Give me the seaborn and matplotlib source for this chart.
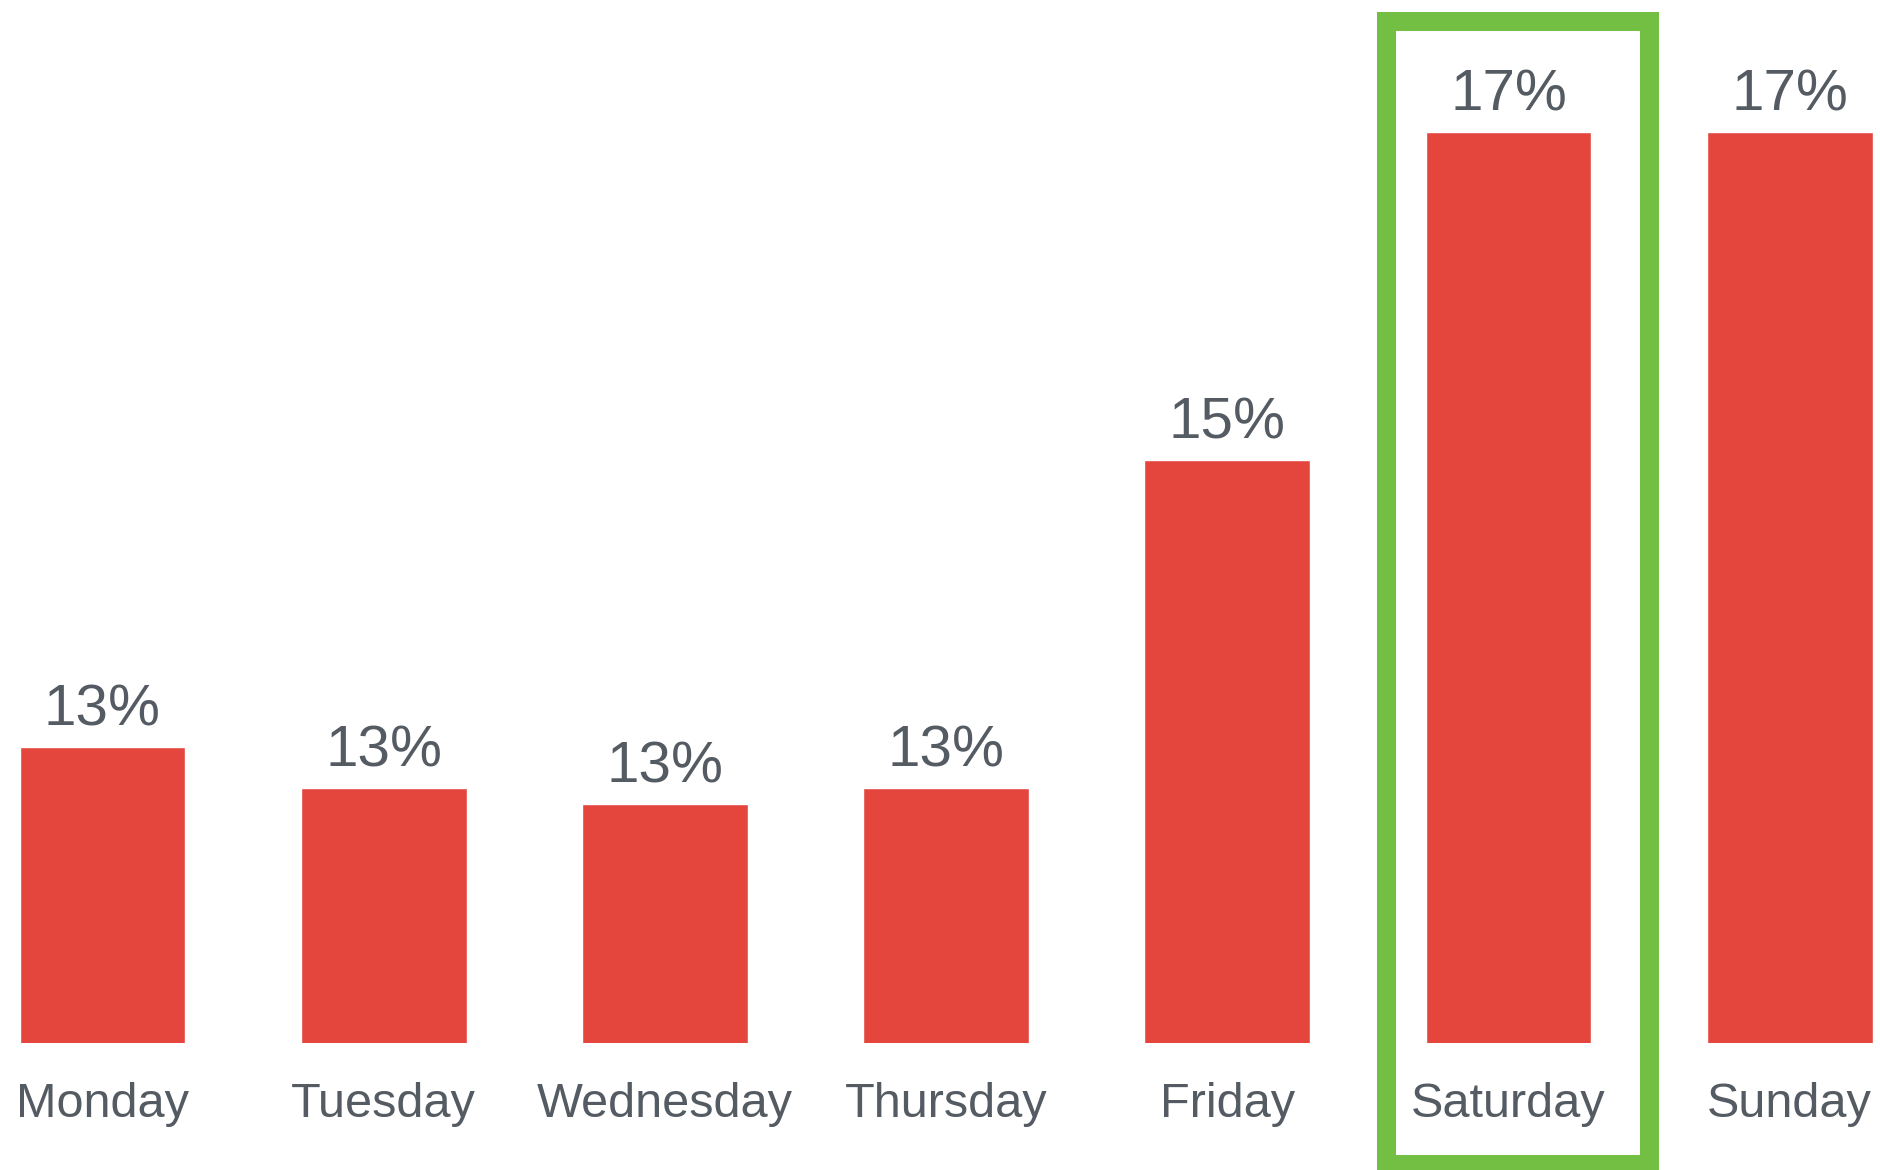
import matplotlib
matplotlib.use("Agg")
import matplotlib.pyplot as plt
import seaborn as sns
import pandas as pd
from matplotlib.patches import Rectangle

# data (share of week, %)
days = ["Monday", "Tuesday", "Wednesday", "Thursday", "Friday", "Saturday", "Sunday"]
share = [13.25, 13.0, 12.9, 13.0, 15.0, 17.0, 17.0]
highlight = "Saturday"

red = "#E4463E"
green = "#72BF44"
grey = "#545B62"

sns.set_style("white")
plt.rcParams["font.family"] = ["Liberation Sans", "DejaVu Sans"]

df = pd.DataFrame({"day": days, "share": share})

fig = plt.figure(figsize=(18.8, 11.7), dpi=100)
ax = fig.add_axes([0, 0.1085, 1, 0.8915])

sns.barplot(data=df, x="day", y="share", order=days, color=red,
            saturation=1, width=0.59, ax=ax)

ax.set_xlim(-0.3645, 6.321)
ax.set_ylim(11.445, 17.805)

labels = [f"{v:.0f}%" for v in share]
ax.bar_label(ax.containers[0], labels=labels, padding=7, fontsize=42, color=grey)

ax.set_xlabel("")
ax.set_ylabel("")
ax.set_yticks([])
ax.tick_params(axis="x", length=0, pad=28, labelsize=35, labelcolor=grey)
sns.despine(ax=ax, left=True, bottom=True)

# green frame round the highlighted day
i = days.index(highlight)
box = Rectangle((i - 0.4374, 10.71), 0.9384, 17.68 - 10.71, fill=False,
                edgecolor=green, linewidth=13.7, clip_on=False)
ax.add_patch(box)

plt.savefig("out.png", dpi=100)
